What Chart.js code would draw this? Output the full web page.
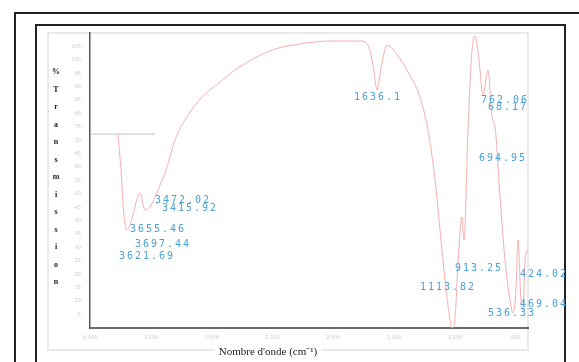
<!DOCTYPE html>
<html>
<head>
<meta charset="utf-8">
<script src="https://cdn.jsdelivr.net/npm/chart.js@4"></script>
<style>
    html, body { margin: 0; padding: 0; background: #fff; }
    #wrap { width: 579px; height: 362px; }
</style>
</head>
<body>
<div id="wrap"><canvas id="irChart" width="579" height="362"></canvas></div>
<script>
// IR spectrum (wavenumber cm-1, %T on an arbitrary 0-110 scale)
const waveNumbers = [3770, 3745, 3721, 3696, 3663, 3589, 3548, 3507, 3441, 3375, 3301, 3219, 3079, 2932, 2808,
    2644, 2479, 2274, 2027, 1781, 1715, 1674, 1641, 1608, 1559, 1493, 1395, 1288, 1222, 1164, 1123, 1082,
    1041, 1025, 1000, 975, 943, 926, 893, 860, 836, 803, 770, 729, 696, 671, 630, 589, 548, 523, 499, 482,
    458, 441, 425, 408];
const transmittance = [72.0, 58.9, 42.1, 36.5, 39.5, 50.3, 44.0, 45.1, 51.5, 58.9, 70.1, 77.6, 86.1, 91.7, 96.2,
    100.7, 104.0, 105.9, 107.0, 107.0, 105.5, 98.1, 88.8, 97.0, 105.5, 102.9, 96.2, 86.1, 73.8, 55.2, 36.5, 17.9,
    3.0, 0.0, 3.7, 24.2, 41.4, 32.8, 73.8, 103.7, 108.9, 99.9, 86.9, 96.2, 78.7, 75.0, 48.9, 25.4, 10.4, 5.6, 14.2, 32.8,
    10.4, 6.7, 24.6, 29.1];

// short grey stretch at the start of the scan
const baseWave = [4000, 3770, 3466];
const baseT = [72.3, 72.3, 72.3];

// peak annotations: label, position (wavenumber, %T)
const peakLabels = ['3472.02', '3415.92', '3655.46', '3697.44', '3621.69', '1636.1', '762.06', '68.17',
    '694.95', '913.25', '1113.82', '424.02', '469.04', '536.33'];
const peakWave = [3244, 3186, 3449, 3408, 3540, 1641, 597, 573, 614, 811, 1066, 277, 277, 540];
const peakT = [47.7, 44.7, 36.9, 31.0, 26.8, 85.8, 85.0, 82.4, 63.4, 22.4, 15.3, 19.8, 8.9, 5.6];

const xTicks = [4000, 3500, 3000, 2500, 2000, 1500, 1000, 500];
const yTicks = [5, 10, 15, 20, 25, 30, 35, 40, 45, 50, 55, 60, 65, 70, 75, 80, 85, 90, 95, 100, 105];

const yTitle = '%Transmission';
const xTitle = "Nombre d'onde (cm\u207B\u00B9)";

const framePlugin = {
    id: 'frame',
    beforeDraw(chart) {
        const ctx = chart.ctx;
        const a = chart.chartArea;
        ctx.save();
        ctx.fillStyle = '#fff';
        ctx.fillRect(0, 0, chart.width, chart.height);
        // outer and inner page boxes
        ctx.strokeStyle = '#222';
        ctx.lineWidth = 2;
        ctx.strokeRect(15, 13, chart.width + 20, chart.height + 20);
        ctx.strokeRect(36, 25, 529, chart.height + 20);
        // light plot frame
        ctx.strokeStyle = '#e2e2e2';
        ctx.lineWidth = 1.5;
        ctx.strokeRect(a.left - 42, a.top, a.right - a.left + 42, a.bottom - a.top + 22);
        ctx.restore();
    },
    afterDraw(chart) {
        const ctx = chart.ctx;
        const a = chart.chartArea;
        const xs = chart.scales.x;
        const ys = chart.scales.y;
        ctx.save();
        // stacked y title
        ctx.fillStyle = '#222';
        ctx.font = 'bold 8px "Liberation Serif"';
        ctx.textAlign = 'center';
        ctx.textBaseline = 'middle';
        yTitle.split('').forEach((ch, i) => {
            ctx.fillText(ch, a.left - 34, a.top + 39 + i * 17.5);
        });
        // x title with white backing over the frame line
        ctx.font = '11px "Liberation Serif"';
        const tw = ctx.measureText(xTitle).width;
        const cx = a.left + 178;
        const cy = a.bottom + 24;
        ctx.fillStyle = '#fff';
        ctx.fillRect(cx - tw / 2 - 4, cy - 7, tw + 8, 13);
        ctx.fillStyle = '#222';
        ctx.fillText(xTitle, cx, cy);
        // peak labels
        ctx.font = '10px "DejaVu Sans Mono"';
        ctx.letterSpacing = '2px';
        ctx.fillStyle = '#4aa0d8';
        peakLabels.forEach((t, i) => {
            ctx.fillText(t, xs.getPixelForValue(peakWave[i]) + 1, ys.getPixelForValue(peakT[i]));
        });
        ctx.restore();
    }
};

const ctx = document.getElementById('irChart').getContext('2d');
new Chart(ctx, {
    type: 'line',
    data: {
        datasets: [
            {
                data: waveNumbers.map((w, i) => ({ x: w, y: transmittance[i] })),
                borderColor: '#f4b0b0',
                borderWidth: 1,
                pointRadius: 0,
                cubicInterpolationMode: 'monotone',
                fill: false
            },
            {
                data: baseWave.map((w, i) => ({ x: w, y: baseT[i] })),
                borderColor: '#c4c4c4',
                borderWidth: 1,
                pointRadius: 0,
                fill: false
            }
        ]
    },
    options: {
        responsive: false,
        animation: false,
        layout: { padding: { left: 0, top: 33, right: 51, bottom: 0 } },
        plugins: { legend: { display: false }, tooltip: { enabled: false } },
        scales: {
            x: {
                type: 'linear',
                reverse: true,
                min: 400,
                max: 4000,
                afterBuildTicks: s => { s.ticks = xTicks.map(v => ({ value: v })); },
                afterFit: s => { s.height = 34; },
                grid: { display: false, drawTicks: false },
                border: { color: '#6a6a6a', width: 2 },
                ticks: { color: '#c8c8c8', font: { size: 5, family: 'DejaVu Sans' }, padding: 7, maxRotation: 0, autoSkip: false }
            },
            y: {
                min: 0,
                max: 110,
                afterBuildTicks: s => { s.ticks = yTicks.map(v => ({ value: v })); },
                afterFit: s => { s.width = 90; },
                grid: { display: false, drawTicks: false },
                border: { color: '#555', width: 1.5 },
                ticks: { color: '#c8c8c8', font: { size: 5, family: 'DejaVu Sans' }, padding: 9, autoSkip: false }
            }
        }
    },
    plugins: [framePlugin]
});
</script>
</body>
</html>
